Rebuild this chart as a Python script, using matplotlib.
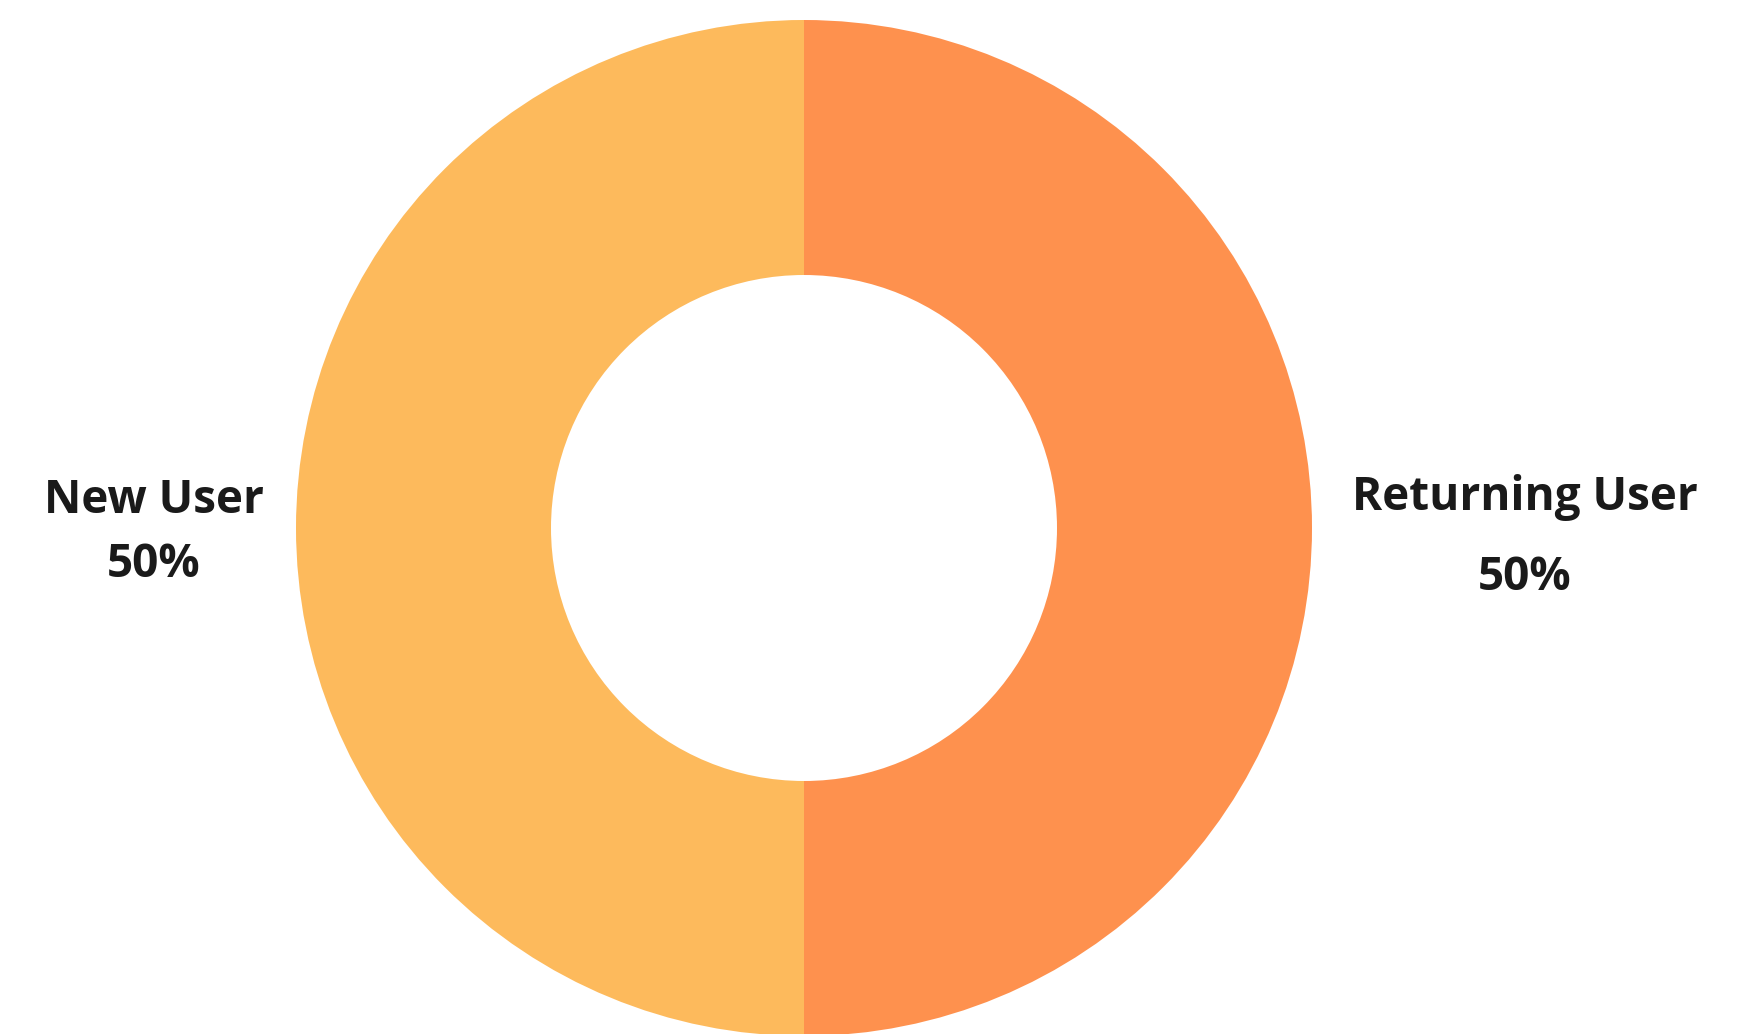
import matplotlib
matplotlib.use("Agg")
import matplotlib.pyplot as plt

# user split
labels = ["New User", "Returning User"]
shares = [50, 50]
colors = ["#FDBA5C", "#FE914E"]

W, H = 1742, 1034
CX, CY = 804, 528          # donut centre (pixels from top-left)
R_OUT, R_IN = 508, 253

fig = plt.figure(figsize=(W / 100, H / 100), dpi=100)
ax = fig.add_axes([0, 0, 1, 1])
ax.set_xlim(0, W)
ax.set_ylim(0, H)
ax.set_aspect("equal")
ax.axis("off")

ax.pie(shares, colors=colors, startangle=90, counterclock=True,
       radius=R_OUT, center=(CX, H - CY),
       wedgeprops=dict(width=R_OUT - R_IN, linewidth=0))
ax.set_xlim(0, W)
ax.set_ylim(0, H)

# label placement: (x centre, name baseline, percent baseline)
spots = [(154, 513, 577), (1525, 510, 590)]
font = dict(family=["Open Sans", "DejaVu Sans"], fontweight="bold", fontsize=33,
            color="#1a1a1a", ha="center", va="baseline")
for name, v, (x, yb1, yb2) in zip(labels, shares, spots):
    ax.text(x, H - yb1, name, **font)
    ax.text(x, H - yb2, f"{v}%", **font)

fig.savefig("out.png", dpi=100)
